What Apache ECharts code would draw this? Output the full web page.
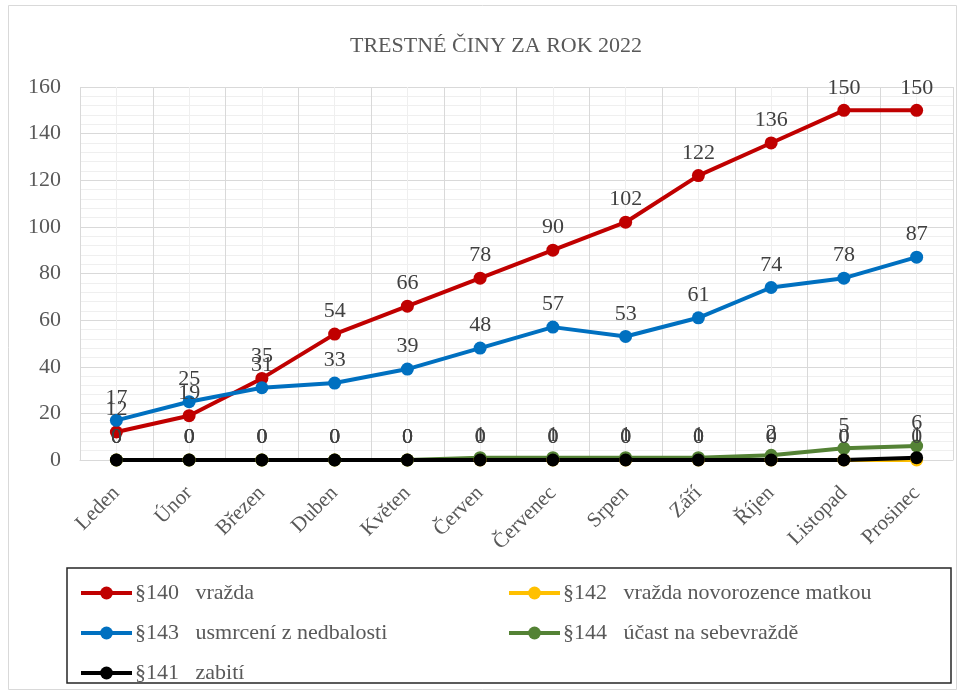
<!DOCTYPE html>
<html>
<head>
<meta charset="utf-8">
<script src="https://cdn.jsdelivr.net/npm/echarts@6/dist/echarts.min.js"></script>
<style>
  html, body { margin: 0; padding: 0; background: #fff; }
  #chart { width: 964px; height: 692px; }
</style>
</head>
<body>
<div id="chart"></div>
<script>
// data
var months = ['Leden', 'Únor', 'Březen', 'Duben', 'Květen', 'Červen', 'Červenec', 'Srpen', 'Září', 'Říjen', 'Listopad', 'Prosinec'];
var vrazda = [12, 19, 35, 54, 66, 78, 90, 102, 122, 136, 150, 150];
var novorozence = [0, 0, 0, 0, 0, 0, 0, 0, 0, 0, 0, 0];
var usmrceni = [17, 25, 31, 33, 39, 48, 57, 53, 61, 74, 78, 87];
var sebevrazda = [0, 0, 0, 0, 0, 1, 1, 1, 1, 2, 5, 6];
var zabiti = [0, 0, 0, 0, 0, 0, 0, 0, 0, 0, 0, 1];

var names = ['§140   vražda', '§142   vražda novorozence matkou', '§143   usmrcení z nedbalosti', '§144   účast na sebevraždě', '§141   zabití'];
var colors = ['#C00000', '#FFC000', '#0070C0', '#548235', '#000000'];

var FONT = 'Liberation Serif';

function mkSeries(i, data) {
  return {
    name: names[i],
    type: 'line',
    data: data,
    xAxisIndex: 0,
    symbol: 'circle',
    symbolSize: 13,
    color: colors[i],
    lineStyle: { width: 4, color: colors[i] },
    itemStyle: { color: colors[i] },
    label: {
      show: true,
      position: 'top',
      distance: 5,
      fontFamily: FONT,
      fontSize: 22,
      color: '#404040'
    },
    emphasis: { disabled: true }
  };
}

var legendBase = {
  orient: 'vertical',
  top: 577,
  itemGap: 18, itemWidth: 51, itemHeight: 16,
  lineStyle: { width: 4 },
  textStyle: { fontFamily: FONT, fontSize: 22, lineHeight: 22, color: '#595959', padding: [0, 0, 0, -2] }
};

var chart = echarts.init(document.getElementById('chart'));
var option = {
  animation: false,
  backgroundColor: '#fff',
  title: {
    text: 'TRESTNÉ ČINY ZA ROK 2022',
    left: 345,
    top: 30,
    textStyle: { fontFamily: FONT, fontSize: 22, fontWeight: 'normal', color: '#595959' }
  },
  grid: { left: 80, right: 11, top: 87, bottom: 232 },
  legend: [
    Object.assign({}, legendBase, { left: 74, data: [names[0], names[2], names[4]] }),
    Object.assign({}, legendBase, { left: 502, data: [names[1], names[3]] })
  ],
  xAxis: [
    {
      type: 'category',
      data: months,
      boundaryGap: true,
      axisLine: { lineStyle: { color: '#d9d9d9', width: 1 } },
      axisTick: { show: false },
      splitLine: { show: false },
      axisLabel: {
        interval: 0,
        rotate: 45,
        margin: 30,
        fontFamily: FONT,
        fontSize: 21,
        color: '#595959'
      }
    },
    {
      // hidden axis used only for the vertical gridlines
      type: 'value',
      position: 'top',
      min: 0, max: 12, interval: 1,
      axisLine: { show: false },
      axisTick: { show: false },
      axisLabel: { show: false },
      splitLine: { show: true, lineStyle: { color: '#d9d9d9', width: 1 } },
      minorTick: { show: false, splitNumber: 2 },
      minorSplitLine: { show: true, lineStyle: { color: '#efefef', width: 1 } }
    }
  ],
  yAxis: {
    type: 'value',
    min: 0, max: 160, interval: 20,
    axisLine: { show: false },
    axisTick: { show: false },
    axisLabel: { margin: 19, fontFamily: FONT, fontSize: 22, color: '#595959' },
    splitLine: { lineStyle: { color: '#d9d9d9', width: 1 } },
    minorTick: { show: false, splitNumber: 5 },
    minorSplitLine: { show: true, lineStyle: { color: '#efefef', width: 1 } }
  },
  graphic: [
    {
      type: 'rect',
      shape: { x: 8.5, y: 5.5, width: 948, height: 684 },
      style: { fill: null, stroke: '#d9d9d9', lineWidth: 1 },
      silent: true
    },
    {
      type: 'rect',
      shape: { x: 67, y: 568, width: 884, height: 115 },
      style: { fill: null, stroke: '#262626', lineWidth: 1.5 },
      silent: true
    }
  ],
  series: [
    mkSeries(0, vrazda),
    mkSeries(1, novorozence),
    mkSeries(2, usmrceni),
    mkSeries(3, sebevrazda),
    mkSeries(4, zabiti)
  ]
};
chart.setOption(option);
</script>
</body>
</html>
